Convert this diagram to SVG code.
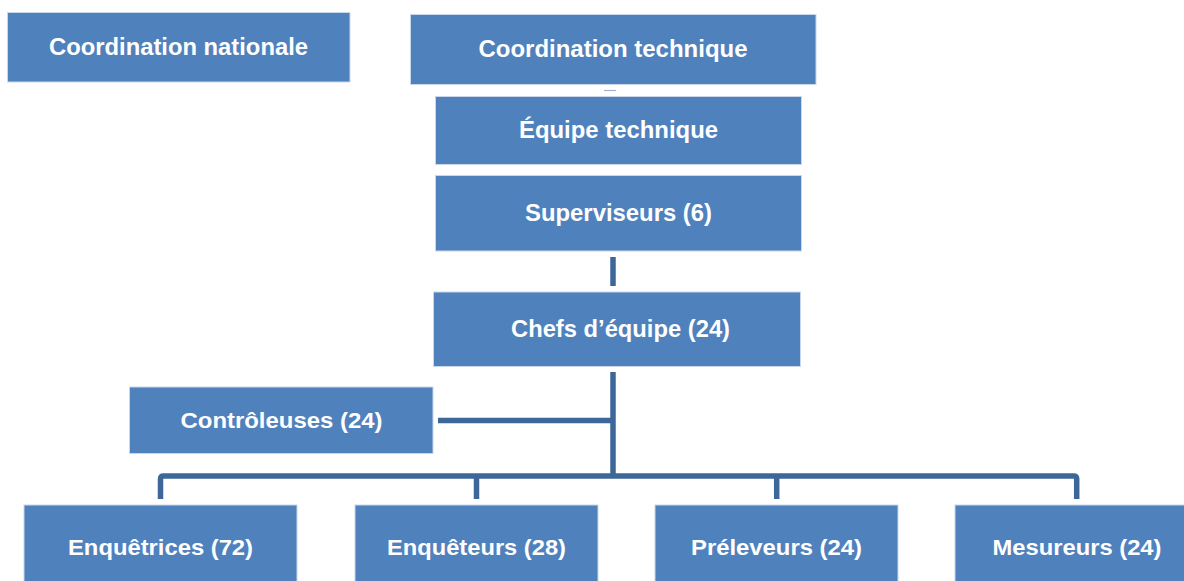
<svg xmlns="http://www.w3.org/2000/svg" width="1184" height="581" viewBox="0 0 1184 581">
<style>
.box{fill:#4F81BD;stroke:#C9D7EA;stroke-width:1}
.lbl{font-family:"Liberation Sans",Arial,sans-serif;font-weight:bold;font-size:24px;fill:#FFFFFF;text-anchor:middle}
.sm{font-size:22px}
.con{fill:none;stroke:#3E6799;stroke-width:5.5;stroke-linejoin:round}
</style>
<rect width="1184" height="581" fill="#FFFFFF"/>
<g id="connectors">
<line x1="604" y1="90.5" x2="616" y2="90.5" stroke="#9FB3D1" stroke-width="1.2"/>
<line class="con" x1="613" y1="257" x2="613" y2="286" stroke-width="6"/>
<line class="con" x1="613" y1="372" x2="613" y2="476"/>
<line class="con" x1="438" y1="420.5" x2="613" y2="420.5" stroke-width="4.6"/>
<path class="con" d="M160.5,499 V479 Q160.5,476 163.5,476 H1073.7 Q1076.7,476 1076.7,479 V499"/>
<line class="con" x1="476.5" y1="476" x2="476.5" y2="499"/>
<line class="con" x1="776.7" y1="476" x2="776.7" y2="499"/>
</g>
<g id="coord-nationale"><rect class="box" x="7.5" y="12.5" width="342.5" height="69.5"/><text class="lbl" x="178.5" y="55" textLength="259" lengthAdjust="spacingAndGlyphs">Coordination nationale</text></g>
<g id="coord-technique"><rect class="box" x="410.5" y="14.5" width="405.5" height="70"/><text class="lbl" x="613" y="57" textLength="269" lengthAdjust="spacingAndGlyphs">Coordination technique</text></g>
<g id="equipe-technique"><rect class="box" x="435.5" y="96.5" width="366" height="68"/><text class="lbl" x="618.5" y="137.5" textLength="199" lengthAdjust="spacingAndGlyphs">Équipe technique</text></g>
<g id="superviseurs"><rect class="box" x="435.5" y="175.5" width="366" height="75.5"/><text class="lbl" x="618.5" y="221" textLength="187" lengthAdjust="spacingAndGlyphs">Superviseurs (6)</text></g>
<g id="chefs"><rect class="box" x="433.5" y="292" width="367" height="74.5"/><text class="lbl" x="620.5" y="337" textLength="219" lengthAdjust="spacingAndGlyphs">Chefs d’équipe (24)</text></g>
<g id="controleuses"><rect class="box" x="129.5" y="387" width="303.5" height="66.5"/><text class="lbl sm" x="281.5" y="427.5" textLength="202" lengthAdjust="spacingAndGlyphs">Contrôleuses (24)</text></g>
<g id="enquetrices"><rect class="box" x="24" y="505" width="273" height="78"/><text class="lbl sm" x="160.5" y="555" textLength="185" lengthAdjust="spacingAndGlyphs">Enquêtrices (72)</text></g>
<g id="enqueteurs"><rect class="box" x="355" y="505" width="243" height="78"/><text class="lbl sm" x="476.5" y="555" textLength="179" lengthAdjust="spacingAndGlyphs">Enquêteurs (28)</text></g>
<g id="preleveurs"><rect class="box" x="655" y="505" width="243" height="78"/><text class="lbl sm" x="776.5" y="555" textLength="171" lengthAdjust="spacingAndGlyphs">Préleveurs (24)</text></g>
<g id="mesureurs"><rect class="box" x="955" y="505" width="245" height="78"/><text class="lbl sm" x="1077" y="555" textLength="169" lengthAdjust="spacingAndGlyphs">Mesureurs (24)</text></g>
</svg>
